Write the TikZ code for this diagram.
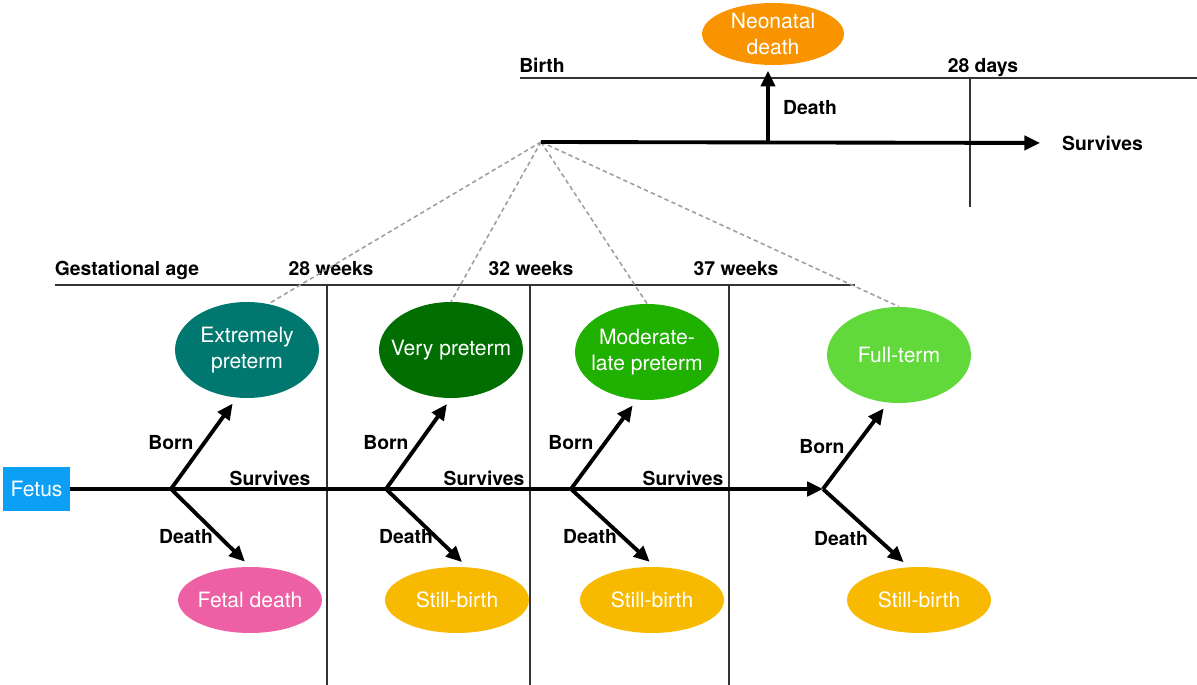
\documentclass[tikz,border=0pt]{standalone}
\usepackage{fontspec}
\setmainfont{TeX Gyre Heros}
\usetikzlibrary{arrows.meta, shapes.geometric}

\definecolor{fetusblue}{RGB}{11,160,245}
\definecolor{extcol}{RGB}{0,120,112}
\definecolor{vptcol}{RGB}{0,110,0}
\definecolor{mlpcol}{RGB}{31,176,0}
\definecolor{fullcol}{RGB}{98,217,58}
\definecolor{fetalcol}{RGB}{238,96,164}
\definecolor{stillcol}{RGB}{247,186,0}
\definecolor{neocol}{RGB}{249,148,0}

\begin{document}
\begin{tikzpicture}[
  x = 0.02cm, y = -0.02cm,
  big/.style={ellipse, minimum width=2.88cm, minimum height=1.92cm, inner xsep=-9pt, inner ysep=0pt,
    text=white, font=\fontsize{12}{15}\selectfont, align=center},
  small/.style={big, minimum height=1.32cm},
  lbl/.style={font=\fontsize{11}{13}\selectfont\bfseries},
  axislbl/.style={lbl, anchor=base},
  flow/.style={line width=2.2pt, -{Triangle[length=9pt,width=8pt]}},
  grid/.style={line width=0.7pt, black!80},
  link/.style={gray!75, line width=0.9pt, dash pattern=on 2.5pt off 1.8pt}
]
\useasboundingbox (0,0) rectangle (1197,685);

%time lines
\draw[grid] (55,285) -- (855,285);
\draw[grid] (520,78) -- (1197,78);
\foreach \x in {327,530,729}\draw[grid] (\x,285) -- (\x,685);
\draw[grid] (970,78) -- (970,207);

\node[axislbl] (gest) at (127,276) {Gestational age};
\node[axislbl] (w28) at (331,276) {28 weeks};
\node[axislbl] (w32) at (531,276) {32 weeks};
\node[axislbl] (w37) at (736,276) {37 weeks};
\node[axislbl] (birthlbl) at (542,73) {Birth};
\node[axislbl] (d28) at (983,73) {28 days};

%junctions
\coordinate (j1) at (171,489);
\coordinate (j2) at (386,489);
\coordinate (j3) at (571,489);
\coordinate (j4) at (823,489);
\coordinate (birth) at (541,142);
\coordinate (jn) at (768,142);

%nodes
\node[fill=fetusblue, text=white, minimum width=1.34cm, minimum height=0.88cm,
  font=\fontsize{12}{14}\selectfont] (fetus) at (36.5,489) {Fetus};
\node[big, fill=extcol] (ext) at (247,350) {Extremely\\preterm};
\node[big, fill=vptcol] (vpt) at (451,350) {Very preterm};
\node[big, fill=mlpcol] (mlp) at (647,352) {Moderate-\\late preterm};
\node[big, fill=fullcol] (full) at (899,355) {Full-term};
\node[small, fill=fetalcol] (fetald) at (250,600) {Fetal death};
\node[small, fill=stillcol] (sb1) at (457,600) {Still-birth};
\node[small, fill=stillcol] (sb2) at (652,600) {Still-birth};
\node[small, fill=stillcol] (sb3) at (919,600) {Still-birth};
\node[small, fill=neocol, minimum width=2.84cm, minimum height=1.24cm] (neo) at (773,34) {Neonatal\\death};
\node[lbl, anchor=west] (survtop) at (1056,143) {Survives};

%dashed links
\draw[link] (birth) -- (ext.65);
\foreach \n in {vpt, mlp, full}\draw[link] (birth) -- (\n.north);

%fetus line
\draw[flow] (fetus.east) -- (j4);
\draw[flow, shorten >=4pt] (j1) -- (ext.-102);
\draw[flow, shorten >=4pt] (j2) -- (vpt.south);
\draw[flow, shorten >=4pt] (j3) -- (mlp.-102);
\draw[flow, shorten >=4pt] (j4) -- (full.-103);
\draw[flow, shorten >=4pt] (j1) -- (fetald.north);
\draw[flow, shorten >=4pt] (j2) -- (sb1.73);
\draw[flow, shorten >=4pt] (j3) -- (sb2.85);
\draw[flow, shorten >=4pt] (j4) -- (sb3.107);

\node[lbl] (b1) at (171,443) {Born};
\node[lbl] (b2) at (386,443) {Born};
\node[lbl] (b3) at (571,443) {Born};
\node[lbl] (b4) at (822,447) {Born};
\node[lbl] (d1) at (186,537) {Death};
\node[lbl] (d2) at (406,537) {Death};
\node[lbl] (d3) at (590,537) {Death};
\node[lbl] (d4) at (841,539) {Death};
\node[lbl] (s1) at (270,478) {Survives};
\node[lbl] (s2) at (484,478) {Survives};
\node[lbl] (s3) at (683,478) {Survives};

%neonatal line
\draw[flow, shorten >=9pt] (birth) -- (survtop.west);
\draw[flow, shorten >=3pt] (jn) -- (jn |- neo.south);
\node[lbl] (dn) at (810,108) {Death};

\end{tikzpicture}
\end{document}
